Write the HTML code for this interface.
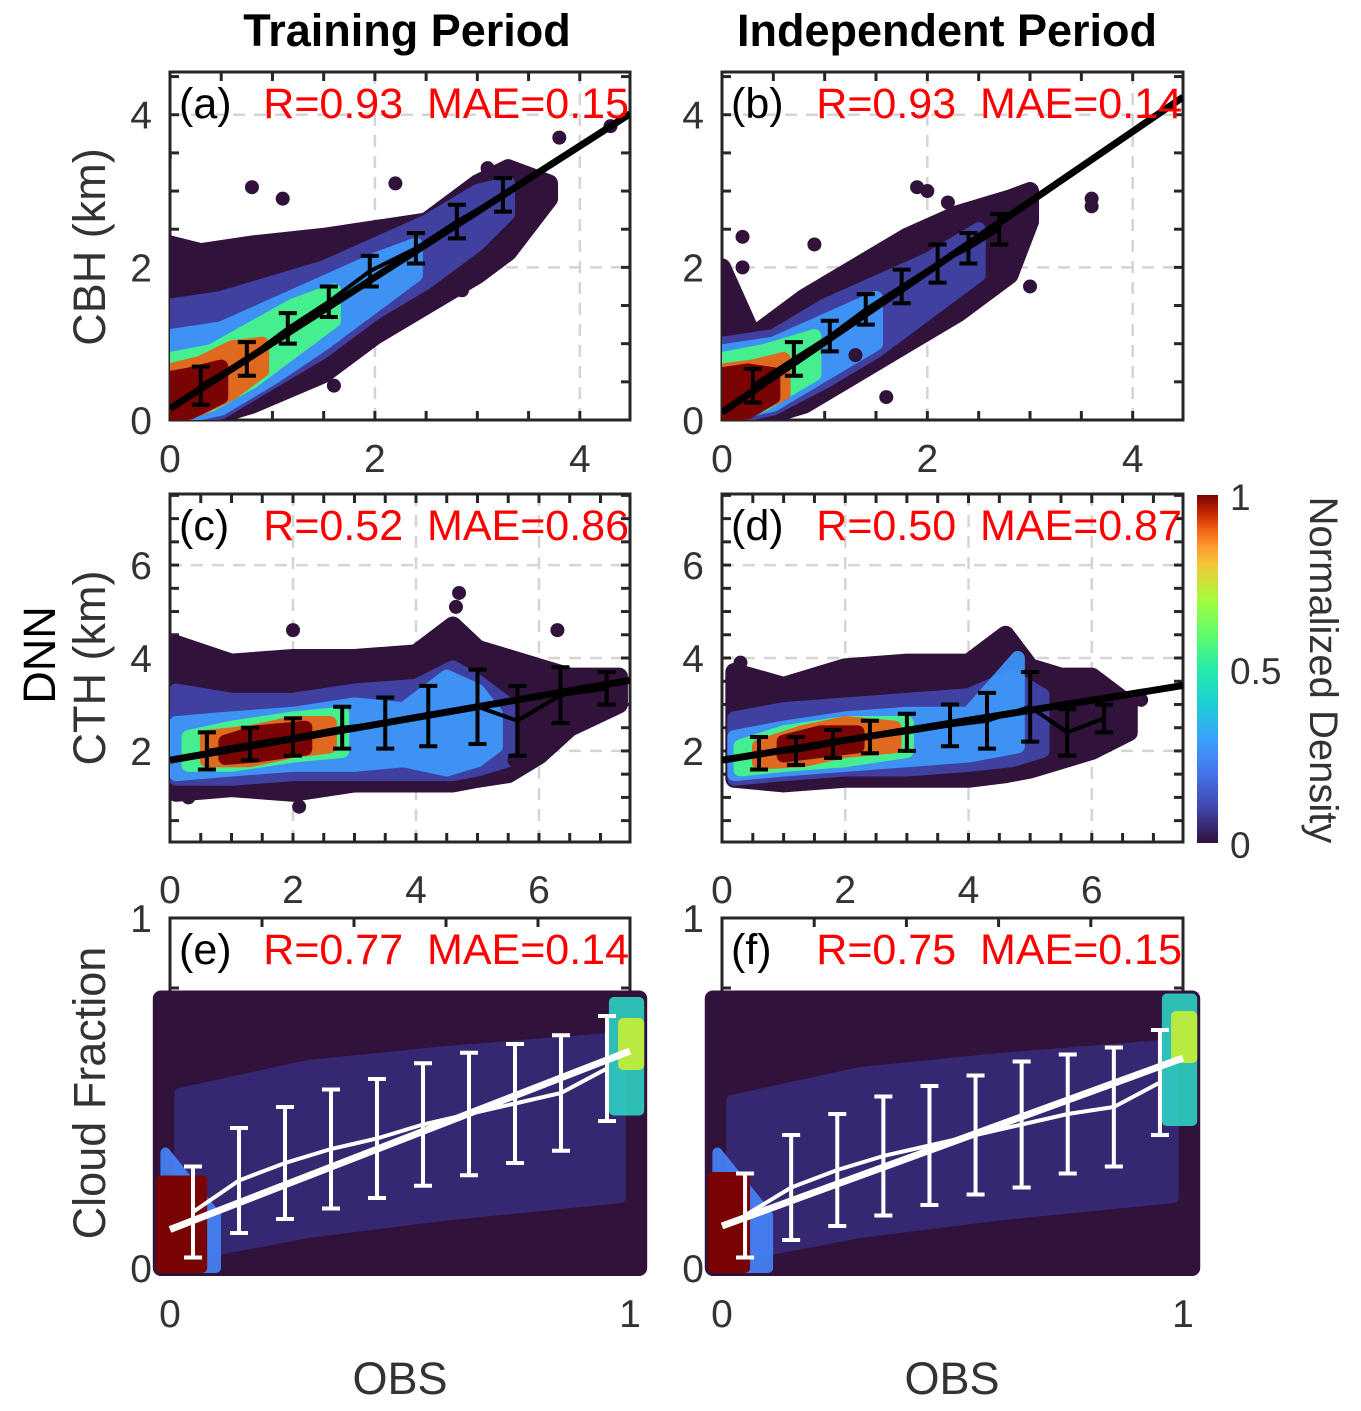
<!DOCTYPE html>
<html><head><meta charset="utf-8">
<style>
html,body{margin:0;padding:0;background:#fff;}
svg{display:block;font-family:"Liberation Sans",sans-serif;}
.pre{white-space:pre;}
</style></head>
<body>
<svg id="fig" width="1361" height="1411" viewBox="0 0 1361 1411">
<defs>
<linearGradient id="turbo" x1="0" y1="1" x2="0" y2="0">
<stop offset="0" stop-color="#30123b"/><stop offset="0.1" stop-color="#4145ab"/><stop offset="0.2" stop-color="#4675ed"/><stop offset="0.3" stop-color="#39a2fc"/><stop offset="0.4" stop-color="#1bcfd4"/><stop offset="0.5" stop-color="#24eca6"/><stop offset="0.6" stop-color="#61fc6c"/><stop offset="0.7" stop-color="#a4fc3b"/><stop offset="0.8" stop-color="#f3c63a"/><stop offset="0.85" stop-color="#fe9b2d"/><stop offset="0.9" stop-color="#f36315"/><stop offset="0.95" stop-color="#c42503"/><stop offset="1" stop-color="#7a0403"/>
</linearGradient>
</defs>
<text x="407" y="46" font-size="45" font-weight="bold" text-anchor="middle">Training Period</text>
<text x="947" y="46" font-size="45" font-weight="bold" text-anchor="middle">Independent Period</text>
<text transform="translate(105,247) rotate(-90)" font-size="45" fill="#333" text-anchor="middle">CBH (km)</text>
<text transform="translate(55,655) rotate(-90)" font-size="45" text-anchor="middle">DNN</text>
<text transform="translate(105,668) rotate(-90)" font-size="45" fill="#333" text-anchor="middle">CTH (km)</text>
<text transform="translate(105,1093) rotate(-90)" font-size="45" fill="#333" text-anchor="middle">Cloud Fraction</text>
<text x="400" y="1394" font-size="45" fill="#333" text-anchor="middle">OBS</text>
<text x="952" y="1394" font-size="45" fill="#333" text-anchor="middle">OBS</text>
<rect x="1197" y="495" width="21" height="348" fill="url(#turbo)"/>
<text x="1230" y="510" font-size="37" fill="#333">1</text>
<text x="1230" y="684" font-size="37" fill="#333">0.5</text>
<text x="1230" y="858" font-size="37" fill="#333">0</text>
<text transform="translate(1310,670) rotate(90)" font-size="40" fill="#333" text-anchor="middle">Normalized Density</text>
</svg>
<script>
// ---------- data ----------
const colors = ["#30123b","#4145ab","#3e9bfe","#46f884","#f05b12","#7a0403"];
// panel a (CBH training)
const aL0x=[0,0.3,0.8,1.5,2.0,2.5,3.0,3.3,3.7], aL0hi=[2.3,2.2,2.3,2.4,2.5,2.6,3.1,3.3,3.1], aL0lo=[0,0,0.2,0.6,1.1,1.5,1.9,2.2,2.9];
const aL1x=[0,0.5,1,1.5,2,2.5,3,3.3], aL1hi=[1.5,1.6,1.8,2.0,2.3,2.6,3.0,3.1], aL1lo=[0,0.1,0.5,0.9,1.4,1.8,2.3,2.7];
const aL2x=[0,0.5,1,1.5,2,2.4], aL2hi=[1.1,1.2,1.5,1.8,2.1,2.3], aL2lo=[0,0.15,0.55,1.0,1.5,1.9];
const aL3x=[0,0.4,0.8,1.2,1.6], aL3hi=[0.8,0.9,1.2,1.5,1.7], aL3lo=[0.05,0.2,0.5,0.9,1.3];
const aL4x=[0,0.3,0.6,0.9], aL4hi=[0.65,0.75,0.95,1.0], aL4lo=[0.05,0.15,0.35,0.65];
const aL5x=[0,0.2,0.5], aL5hi=[0.55,0.6,0.7], aL5lo=[0.05,0.1,0.3];
const aOutX=[-0.05,0.8,1.1,2.2,3.1,3.8,4.3,2.85,1.6], aOutY=[3.45,3.05,2.9,3.1,3.3,3.7,3.85,1.7,0.45];
const aMx=[0.3,0.75,1.15,1.55,1.95,2.4,2.8,3.25], aMy=[0.45,0.8,1.2,1.55,1.95,2.25,2.6,2.95], aErr=[0.25,0.22,0.2,0.2,0.2,0.2,0.22,0.22];
const aReg=[0.15,0.86];
// panel b (CBH independent)
const bL0x=[0,0.3,0.8,1.3,1.8,2.3,2.8,3.0], bL0hi=[2.0,1.1,1.6,2.0,2.4,2.7,2.9,3.0], bL0lo=[0,0,0.2,0.6,1.0,1.4,1.9,2.6];
const bL1x=[0,0.5,1,1.5,2,2.5], bL1hi=[1.0,1.1,1.5,1.8,2.1,2.5], bL1lo=[0,0.15,0.5,0.9,1.4,1.9];
const bL2x=[0,0.5,1,1.5], bL2hi=[0.9,1.0,1.3,1.6], bL2lo=[0.05,0.2,0.6,1.0];
const bL3x=[0,0.4,0.9], bL3hi=[0.8,0.9,1.1], bL3lo=[0.05,0.2,0.6];
const bL4x=[0,0.3,0.6], bL4hi=[0.65,0.7,0.8], bL4lo=[0.05,0.15,0.35];
const bL5x=[0,0.25,0.5], bL5hi=[0.6,0.65,0.6], bL5lo=[0.05,0.1,0.3];
const bOutX=[0.2,0.2,1.9,2.0,2.2,3.6,3.6,3.0,1.6,1.3,0.9], bOutY=[2.4,2.0,3.05,3.0,2.85,2.9,2.8,1.75,0.3,0.85,2.3];
const bMx=[0.3,0.7,1.05,1.4,1.75,2.1,2.4,2.7], bMy=[0.45,0.8,1.1,1.45,1.75,2.05,2.25,2.5], bErr=[0.22,0.22,0.2,0.2,0.22,0.25,0.2,0.2];
const bReg=[0.1,0.92];
// panel c (CTH training)
const cL0x=[0.1,1,2,3,4,4.6,5,5.5,6,6.5,7.3], cL0hi=[4.3,3.9,4.0,4.0,4.1,4.7,4.2,4.0,3.8,3.6,3.6], cL0lo=[1.1,1.2,1.1,1.3,1.3,1.3,1.4,1.5,1.9,2.5,3.0];
const cL1x=[0.1,1,2,3,4,4.6,5,5.5], cL1hi=[3.3,3.1,3.1,3.3,3.4,3.8,3.5,3.0], cL1lo=[1.4,1.4,1.5,1.5,1.5,1.5,1.6,1.8];
const cL2x=[0.1,1,2,3,3.8,4.5,5,5.3], cL2hi=[2.6,2.7,2.8,3.0,2.9,3.6,3.3,2.8], cL2lo=[1.5,1.6,1.7,1.7,1.8,1.6,1.8,2.1];
const cL3x=[0.3,1,2,2.8], cL3hi=[2.3,2.5,2.7,2.8], cL3lo=[1.7,1.7,1.9,2.0];
const cL4x=[0.6,1.3,2,2.6], cL4hi=[2.3,2.4,2.6,2.6], cL4lo=[1.8,1.8,2.0,2.1];
const cL5x=[0.9,1.4,2.2], cL5hi=[2.2,2.4,2.5], cL5lo=[1.85,1.9,2.05];
const cOutX=[2.0,4.7,4.65,6.3,0.3,2.1,5.6], cOutY=[4.6,5.4,5.1,4.6,1.0,0.8,1.8];
const cMx=[0.6,1.3,2.0,2.8,3.5,4.2,5.0,5.65,6.35,7.1], cMy=[2.0,2.15,2.3,2.5,2.6,2.75,2.95,2.65,3.2,3.35], cErr=[0.4,0.35,0.4,0.45,0.55,0.65,0.8,0.75,0.6,0.35];
const cReg=[1.8,0.23];
// panel d (CTH independent)
const dL0x=[0.2,1,2,3,4,4.6,5,5.5,6,6.6], dL0hi=[3.7,3.4,3.8,3.9,3.9,4.5,3.8,3.6,3.6,3.0], dL0lo=[1.4,1.3,1.4,1.4,1.4,1.5,1.6,1.8,2.0,2.4];
const dL1x=[0.2,1,2,3,4,4.7,5.2], dL1hi=[2.7,2.9,3.0,3.1,3.2,3.6,3.2], dL1lo=[1.4,1.5,1.6,1.6,1.7,1.8,2.0];
const dL2x=[0.2,1,2,3,4,4.8], dL2hi=[2.3,2.5,2.7,2.8,2.8,4.0], dL2lo=[1.5,1.6,1.7,1.8,1.9,2.1];
const dL3x=[0.3,1,2,3], dL3hi=[2.1,2.4,2.6,2.6], dL3lo=[1.6,1.7,1.8,2.0];
const dL4x=[0.6,1.3,2,2.8], dL4hi=[2.1,2.4,2.6,2.5], dL4lo=[1.75,1.8,2.0,2.1];
const dL5x=[1,1.6,2.2], dL5hi=[2.2,2.4,2.4], dL5lo=[1.9,2.0,2.1];
const dOutX=[0.3,6.8,6.2], dOutY=[3.9,3.1,3.0];
const dMx=[0.6,1.2,1.8,2.4,3.0,3.7,4.3,5.0,5.6,6.2], dMy=[1.95,2.0,2.15,2.3,2.4,2.55,2.65,2.95,2.4,2.7], dErr=[0.35,0.3,0.3,0.35,0.4,0.45,0.6,0.75,0.5,0.3];
const dReg=[1.8,0.215];
// panel e (CF training)
const eL0x=[-0.02,1.02], eL0hi=[0.77,0.77], eL0lo=[0,0];
const eL1x=[0.02,0.3,0.6,0.98], eL1hi=[0.5,0.58,0.62,0.66], eL1lo=[0.03,0.1,0.15,0.2];
const eL2x=[-0.01,0.1], eL2hi=[0.33,0.15], eL2lo=[0,0];
const eL3x=[0.965,1.02], eL3hi=[0.76,0.76], eL3lo=[0.45,0.45];
const eL4x=[0.985,1.02], eL4hi=[0.7,0.7], eL4lo=[0.58,0.58];
const eL5x=[-0.02,0.07], eL5hi=[0.25,0.25], eL5lo=[0,0];
const eMx=[0.05,0.15,0.25,0.35,0.45,0.55,0.65,0.75,0.85,0.95], eMy=[0.16,0.25,0.30,0.34,0.37,0.41,0.44,0.47,0.50,0.57], eErr=[0.13,0.15,0.16,0.17,0.17,0.175,0.175,0.17,0.165,0.15];
const eReg=[0.11,0.51];
// panel f (CF independent)
const fL0x=[-0.02,1.02], fL0hi=[0.77,0.77], fL0lo=[0,0];
const fL1x=[0.02,0.3,0.6,0.98], fL1hi=[0.48,0.56,0.6,0.64], fL1lo=[0.03,0.1,0.15,0.2];
const fL2x=[-0.01,0.1], fL2hi=[0.33,0.15], fL2lo=[0,0];
const fL3x=[0.965,1.02], fL3hi=[0.77,0.77], fL3lo=[0.42,0.42];
const fL4x=[0.985,1.02], fL4hi=[0.72,0.72], fL4lo=[0.6,0.6];
const fL5x=[-0.02,0.05], fL5hi=[0.26,0.26], fL5lo=[0,0];
const fMx=[0.05,0.15,0.25,0.35,0.45,0.55,0.65,0.75,0.85,0.95], fMy=[0.15,0.23,0.28,0.32,0.35,0.38,0.41,0.44,0.46,0.53], fErr=[0.12,0.15,0.16,0.17,0.17,0.17,0.18,0.17,0.17,0.15];
const fReg=[0.12,0.48];

const panels=[
 {id:"a",lab:"(a)",stat:"R=0.93  MAE=0.15",box:[170,630,72,420],xr:[0,4.49],yr:[0,4.56],xt:[0,2,4],yt:[0,2,4],minor:0.5,
  L:[[aL0x,aL0hi,aL0lo],[aL1x,aL1hi,aL1lo],[aL2x,aL2hi,aL2lo],[aL3x,aL3hi,aL3lo],[aL4x,aL4hi,aL4lo],[aL5x,aL5hi,aL5lo]],ox:aOutX,oy:aOutY,mx:aMx,my:aMy,err:aErr,reg:aReg,lc:"#000",grid:true,tickY:472},
 {id:"b",lab:"(b)",stat:"R=0.93  MAE=0.14",box:[722,1183,72,420],xr:[0,4.49],yr:[0,4.56],xt:[0,2,4],yt:[0,2,4],minor:0.5,
  L:[[bL0x,bL0hi,bL0lo],[bL1x,bL1hi,bL1lo],[bL2x,bL2hi,bL2lo],[bL3x,bL3hi,bL3lo],[bL4x,bL4hi,bL4lo],[bL5x,bL5hi,bL5lo]],ox:bOutX,oy:bOutY,mx:bMx,my:bMy,err:bErr,reg:bReg,lc:"#000",grid:true,tickY:472},
 {id:"c",lab:"(c)",stat:"R=0.52  MAE=0.86",box:[170,630,494,842],xr:[0,7.48],yr:[0.04,7.53],xt:[0,2,4,6],yt:[2,4,6],minor:0.5,
  L:[[cL0x,cL0hi,cL0lo],[cL1x,cL1hi,cL1lo],[cL2x,cL2hi,cL2lo],[cL3x,cL3hi,cL3lo],[cL4x,cL4hi,cL4lo],[cL5x,cL5hi,cL5lo]],ox:cOutX,oy:cOutY,mx:cMx,my:cMy,err:cErr,reg:cReg,lc:"#000",grid:true,tickY:903},
 {id:"d",lab:"(d)",stat:"R=0.50  MAE=0.87",box:[722,1183,494,842],xr:[0,7.48],yr:[0.04,7.53],xt:[0,2,4,6],yt:[2,4,6],minor:0.5,
  L:[[dL0x,dL0hi,dL0lo],[dL1x,dL1hi,dL1lo],[dL2x,dL2hi,dL2lo],[dL3x,dL3hi,dL3lo],[dL4x,dL4hi,dL4lo],[dL5x,dL5hi,dL5lo]],ox:dOutX,oy:dOutY,mx:dMx,my:dMy,err:dErr,reg:dReg,lc:"#000",grid:true,tickY:903},
 {id:"e",lab:"(e)",stat:"R=0.77  MAE=0.14",box:[170,630,918,1268],xr:[0,1],yr:[0,1],xt:[0,1],yt:[0,1],minor:0.2,
  L:[[eL0x,eL0hi,eL0lo],[eL1x,eL1hi,eL1lo],[eL2x,eL2hi,eL2lo],[eL3x,eL3hi,eL3lo],[eL4x,eL4hi,eL4lo],[eL5x,eL5hi,eL5lo]],ox:[],oy:[],mx:eMx,my:eMy,err:eErr,reg:eReg,lc:"#fff",grid:false,tickY:1327},
 {id:"f",lab:"(f)",stat:"R=0.75  MAE=0.15",box:[722,1183,918,1268],xr:[0,1],yr:[0,1],xt:[0,1],yt:[0,1],minor:0.2,
  L:[[fL0x,fL0hi,fL0lo],[fL1x,fL1hi,fL1lo],[fL2x,fL2hi,fL2lo],[fL3x,fL3hi,fL3lo],[fL4x,fL4hi,fL4lo],[fL5x,fL5hi,fL5lo]],ox:[],oy:[],mx:fMx,my:fMy,err:fErr,reg:fReg,lc:"#fff",grid:false,tickY:1327}
];
const cfColors=["#30123b","#372a78","#4686fb","#2fd1c4","#c7ef34","#7a0403"];
const NS="http://www.w3.org/2000/svg";
const svg=document.getElementById("fig");
function mk(tag,attrs,parent){const e=document.createElementNS(NS,tag);for(const k in attrs)e.setAttribute(k,attrs[k]);(parent||svg).appendChild(e);return e;}

panels.forEach(p=>{
 const [x0,x1,y0,y1]=p.box;
 const sx=v=>x0+(v-p.xr[0])/(p.xr[1]-p.xr[0])*(x1-x0);
 const sy=v=>y1-(v-p.yr[0])/(p.yr[1]-p.yr[0])*(y1-y0);
 const g=mk("g",{});
 
 
 const cf=p.id==="e"||p.id==="f";
 if(!cf){
  const clip=mk("clipPath",{id:"clip"+p.id},g);
  mk("rect",{x:x0,y:y0,width:x1-x0,height:y1-y0},clip);
 }
 if(p.grid){
  p.xt.forEach(t=>{if(t>p.xr[0]+0.01){const l=mk("line",{x1:sx(t),x2:sx(t),y1:y0,y2:y1,stroke:"#d4d4d4","stroke-width":2.5,"stroke-dasharray":"12 9"},g);}});
  p.yt.forEach(t=>{if(t>p.yr[0]+0.01){const l=mk("line",{x1:x0,x2:x1,y1:sy(t),y2:sy(t),stroke:"#d4d4d4","stroke-width":2.5,"stroke-dasharray":"12 9"},g);}});
 }
 const fr=mk("rect",{x:x0,y:y0,width:x1-x0,height:y1-y0,fill:"none",stroke:"#262626","stroke-width":3},g);
 
 
 for(let v=p.xr[0];v<=p.xr[1]+1e-6;v+=p.minor){const X=sx(v);mk("line",{x1:X,x2:X,y1:y1,y2:y1-9,stroke:"#262626","stroke-width":3},g);mk("line",{x1:X,x2:X,y1:y0,y2:y0+9,stroke:"#262626","stroke-width":3},g);}
 for(let v=Math.ceil(p.yr[0]/p.minor)*p.minor;v<=p.yr[1]+1e-6;v+=p.minor){const Y=sy(v);mk("line",{x1:x0,x2:x0+9,y1:Y,y2:Y,stroke:"#262626","stroke-width":3},g);mk("line",{x1:x1,x2:x1-9,y1:Y,y2:Y,stroke:"#262626","stroke-width":3},g);}
 const lg=mk("g",cf?{}:{"clip-path":"url(#clip"+p.id+")"},g);
 p.L.forEach((L,i)=>{
  const [xs,hi,lo]=L;
  let pts=xs.map((x,k)=>sx(x)+","+sy(hi[k]));
  for(let k=xs.length-1;k>=0;k--)pts.push(sx(xs[k])+","+sy(lo[k]));
  const col=cf?cfColors[i]:colors[i];
  const pg=mk("polygon",{points:pts.join(" "),fill:col,stroke:col,"stroke-width":cf?(i===0?16:10):(i===0?18:14),"stroke-linejoin":"round",opacity:(i>0&&i<5)?0.9:1},lg);
  
  
 });
 p.ox.forEach((x,k)=>{const c=mk("circle",{cx:sx(x),cy:sy(p.oy[k]),r:7,fill:"#30123b"},lg);});
 const rl=mk("line",{x1:sx(p.xr[0]),y1:sy(p.reg[0]+p.reg[1]*p.xr[0]),x2:sx(p.xr[1]),y2:sy(p.reg[0]+p.reg[1]*p.xr[1]),stroke:p.lc,"stroke-width":7},lg);
 
 
 const ml=mk("polyline",{points:p.mx.map((x,k)=>sx(x)+","+sy(p.my[k])).join(" "),fill:"none",stroke:p.lc,"stroke-width":4},lg);
 
 
 p.mx.forEach((x,k)=>{
  const X=sx(x),T=sy(p.my[k]+p.err[k]),B=sy(p.my[k]-p.err[k]);
  const eb=mk("path",{d:`M${X},${T}V${B}M${X-9},${T}H${X+9}M${X-9},${B}H${X+9}`,stroke:p.lc,"stroke-width":4,fill:"none"},lg);
  
  
 });
 p.xt.forEach(t=>{const tx=mk("text",{x:sx(t),y:p.tickY,"font-size":39,fill:"#333","text-anchor":"middle"},g);tx.textContent=t;});
 p.yt.forEach(t=>{const tx=mk("text",{x:x0-18,y:sy(t)+14,"font-size":39,fill:"#333","text-anchor":"end"},g);tx.textContent=t;});
 const ty=y0+46;
 const lb=mk("text",{x:x0+9,y:ty,"font-size":43,fill:"#000"},g);lb.textContent=p.lab;
 
 
 const st=mk("text",{x:x1-1,y:ty,"font-size":43,fill:"#ff0000","text-anchor":"end","class":"pre"},g);st.textContent=p.stat;
 
 
});
</script>
</body></html>
